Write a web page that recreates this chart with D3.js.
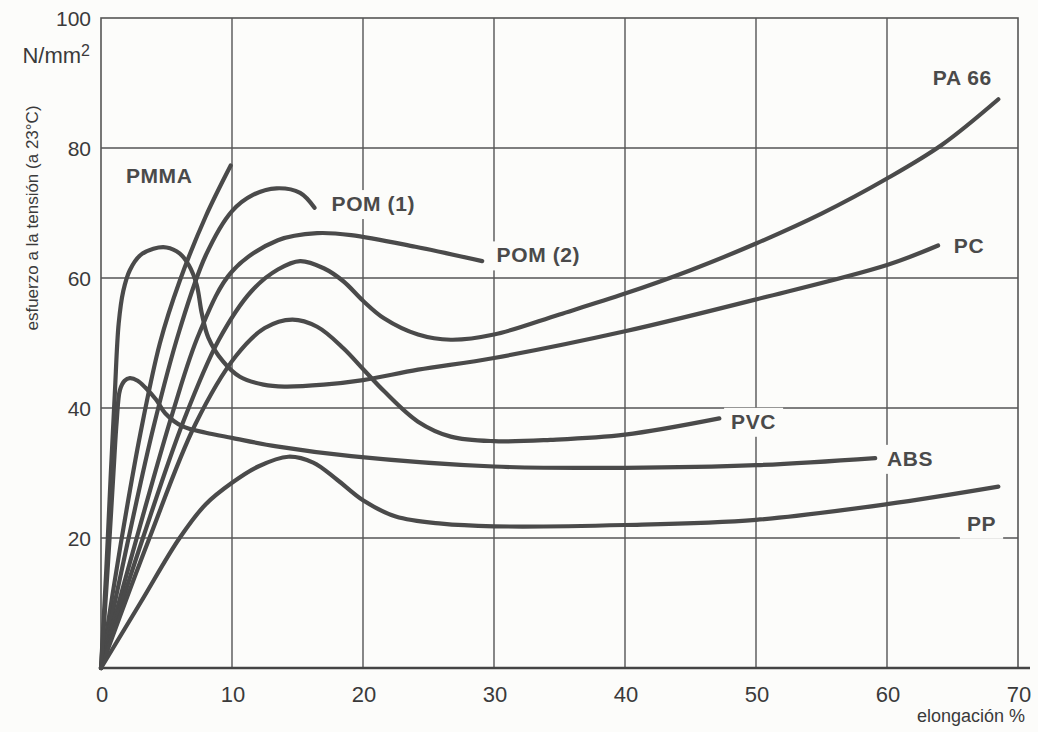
<!DOCTYPE html>
<html>
<head>
<meta charset="utf-8">
<script src="https://cdn.jsdelivr.net/npm/d3@7"></script>
<style>
    html, body { margin: 0; padding: 0; background: #fcfcfa; }
    svg { display: block; }
    .tick-y { font-family: "Liberation Sans", Arial, sans-serif; font-size: 21px; fill: #3a3a3a; }
    .tick-x { font-family: "Liberation Sans", Arial, sans-serif; font-size: 22px; fill: #3a3a3a; }
    .axis-title { font-family: "Liberation Sans Narrow", "Liberation Sans", Arial, sans-serif; font-size: 17px; fill: #3a3a3a; }
    .curve-label { font-family: "Liberation Sans", Arial, sans-serif; font-size: 21px; font-weight: bold; fill: #4a4a4a; letter-spacing: 0.6px; }
</style>
</head>
<body>
<svg id="chart" width="1038" height="732"></svg>
<script>
// Tick values
const xTicks = [0, 10, 20, 30, 40, 50, 60, 70];
const yTicks = [20, 40, 60, 80, 100];

// Curves: [elongation %, stress N/mm2]
const pmma = [[0, 0], [1.5, 19], [3, 36], [4.5, 50], [6, 59.5], [8, 69.5], [9.9, 77.3]];
const pom1 = [[0, 0], [2, 19], [4, 37], [6, 52], [8, 63.5], [10, 70.3], [11.6, 72.8], [13.4, 73.8], [15.2, 73.1], [16.3, 70.8]];
const pom2 = [[0, 0], [3, 22], [5.5, 39.5], [7.5, 51.5], [10, 61], [13.5, 65.8], [16.5, 66.9], [19.1, 66.6], [24, 64.8], [29.1, 62.6]];
const pa66 = [[0, 0], [3.2, 20], [6.3, 38], [9, 50.5], [11.5, 58], [13.5, 61.3], [15.2, 62.6], [17, 61.5], [18.5, 59.5], [20, 56.5], [21.6, 53.8], [24.2, 51.3], [26.7, 50.5], [30, 51.3], [35, 54.4], [40, 57.6], [45, 61.2], [50, 65.3], [55, 69.9], [60, 75.3], [64.2, 80.5], [68.5, 87.5]];
const pc = [[0, 0], [0.4, 15], [0.75, 30], [1.05, 42], [1.35, 53], [1.7, 58], [2.2, 61.2], [3, 63.5], [4, 64.5], [5, 64.7], [6, 63.8], [6.7, 62], [7.3, 59], [7.7, 54.5], [8.2, 50.8], [9.3, 47.2], [10.6, 44.8], [12.4, 43.6], [14, 43.3], [17, 43.6], [20, 44.3], [24.2, 45.9], [30, 47.7], [40, 51.8], [50, 56.7], [60, 62], [63.9, 65]];
const pvc = [[0, 0], [3.7, 20], [7.2, 37.5], [10.3, 48], [12.5, 52.3], [14.6, 53.6], [16.5, 52.5], [18.5, 49.2], [20, 46], [21.6, 42.6], [24.2, 37.9], [26.7, 35.6], [30, 34.9], [34.3, 35.1], [40, 35.9], [47.2, 38.4]];
const abs = [[0, 0], [0.5, 15], [0.95, 30], [1.2, 38], [1.45, 42.8], [1.8, 44.2], [2.2, 44.6], [2.8, 44.2], [3.4, 43.1], [4.2, 41.3], [4.9, 39.2], [6.2, 37.2], [8, 36.2], [10, 35.4], [13.4, 34.1], [19.1, 32.6], [30, 31], [40, 30.8], [50, 31.2], [59.1, 32.3]];
const pp = [[0, 0], [3, 10], [6, 20], [8, 25.2], [10, 28.5], [12, 31], [14.3, 32.5], [16.2, 31.6], [18, 29], [20, 25.8], [22.5, 23.3], [26, 22.2], [30, 21.8], [40, 22], [50, 22.8], [60, 25.2], [68.5, 27.9]];

const curves = [pmma, pom1, pom2, pa66, pc, pvc, abs, pp];

// Curve names and where they sit (data units, left end of text baseline)
const labelNames = ["PMMA", "POM (1)", "POM (2)", "PA 66", "PC", "PVC", "ABS", "PP"];
const labelSpots = [[1.9, 74.6], [17.6, 70.3], [30.2, 62.4], [63.5, 89.7], [65.1, 63.9], [48.1, 36.8], [60, 31.1], [66.1, 21.1]];

const svg = d3.select("#chart");

const x = d3.scaleLinear().domain([0, 70]).range([101, 1018]);
const y = d3.scaleLinear().domain([0, 100]).range([668, 18]);

const ink = "#4a4a4a";

// Grid
const grid = svg.append("g");

grid.selectAll(".vgrid")
    .data(xTicks.slice(1, -1))
    .enter()
    .append("line")
    .attr("x1", d => x(d))
    .attr("x2", d => x(d))
    .attr("y1", y(0))
    .attr("y2", y(100))
    .attr("stroke", "#555")
    .attr("stroke-width", 1.4);

grid.selectAll(".hgrid")
    .data(yTicks.slice(0, -1))
    .enter()
    .append("line")
    .attr("x1", x(0))
    .attr("x2", x(70))
    .attr("y1", d => y(d))
    .attr("y2", d => y(d))
    .attr("stroke", "#555")
    .attr("stroke-width", 1.4);

// Frame
grid.append("rect")
    .attr("x", x(0))
    .attr("y", y(100))
    .attr("width", x(70) - x(0))
    .attr("height", y(0) - y(100))
    .attr("fill", "none")
    .attr("stroke", "#555")
    .attr("stroke-width", 1.6);

// Bottom axis line, a bit heavier and running past the frame
svg.append("line")
    .attr("x1", x(0))
    .attr("x2", x(70) + 12)
    .attr("y1", y(0))
    .attr("y2", y(0))
    .attr("stroke", "#444")
    .attr("stroke-width", 2.6);

// Curves
const line = d3.line()
    .x(d => x(d[0]))
    .y(d => y(d[1]))
    .curve(d3.curveCatmullRom.alpha(0.5));

svg.append("g")
    .selectAll("path")
    .data(curves)
    .enter()
    .append("path")
    .attr("d", line)
    .attr("fill", "none")
    .attr("stroke", ink)
    .attr("stroke-width", 4.2)
    .attr("stroke-linecap", "round")
    .attr("stroke-linejoin", "round");

// Curve labels on paper-coloured patches that break the grid
const labels = svg.append("g")
    .selectAll("g")
    .data(labelNames)
    .enter()
    .append("g");

labels.append("text")
    .attr("class", "curve-label")
    .attr("x", (d, i) => x(labelSpots[i][0]))
    .attr("y", (d, i) => y(labelSpots[i][1]))
    .text(d => d);

labels.each(function () {
    const g = d3.select(this);
    const box = g.select("text").node().getBBox();
    g.insert("rect", "text")
        .attr("x", box.x - 7)
        .attr("y", box.y - 2)
        .attr("width", box.width + 14)
        .attr("height", box.height + 6)
        .attr("fill", "#fcfcfa");
});

// Y tick labels
svg.append("g")
    .selectAll("text")
    .data(yTicks)
    .enter()
    .append("text")
    .attr("class", "tick-y")
    .attr("x", 91)
    .attr("y", d => y(d))
    .attr("dy", "0.36em")
    .attr("text-anchor", "end")
    .text(d => d);

// Unit under the top tick
const unit = svg.append("text")
    .attr("class", "tick-y")
    .attr("x", 90)
    .attr("y", 63)
    .attr("text-anchor", "end")
    .style("font-size", "22px");
unit.append("tspan").text("N/mm");
unit.append("tspan").attr("dy", -7).attr("font-size", "16px").text("2");

// X tick labels
svg.append("g")
    .selectAll("text")
    .data(xTicks)
    .enter()
    .append("text")
    .attr("class", "tick-x")
    .attr("x", d => x(d) + 1)
    .attr("y", 702)
    .attr("text-anchor", "middle")
    .text(d => d);

// Axis titles
svg.append("text")
    .attr("class", "axis-title")
    .attr("text-anchor", "middle")
    .attr("transform", `translate(38, 218) rotate(-90)`)
    .text("esfuerzo a la tensión (a 23°C)");

svg.append("text")
    .attr("class", "axis-title")
    .attr("x", 1025)
    .attr("y", 722)
    .attr("text-anchor", "end")
    .style("font-size", "18px")
    .text("elongación %");
</script>
</body>
</html>
